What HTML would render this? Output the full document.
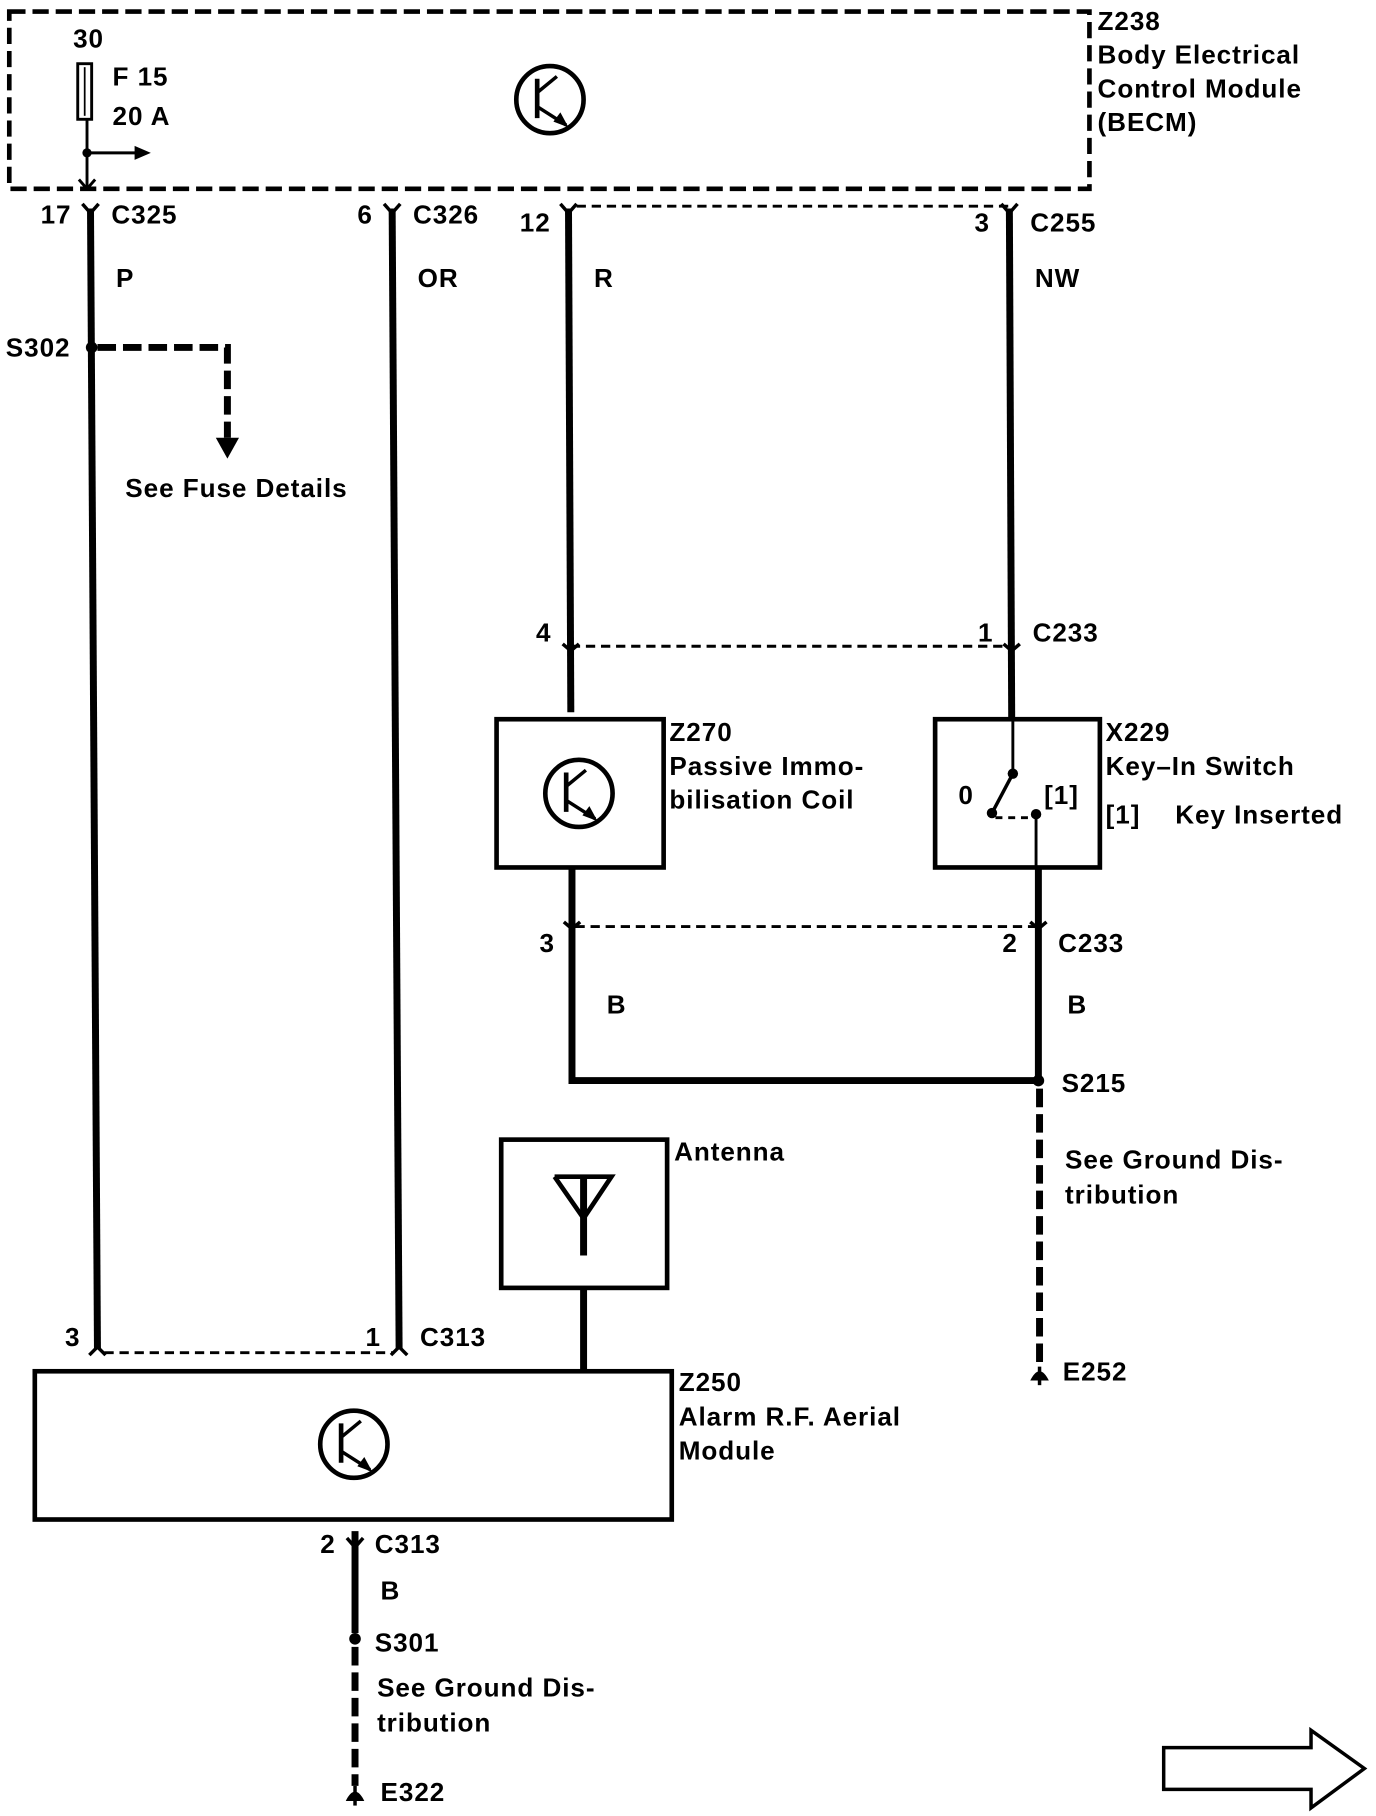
<!DOCTYPE html>
<html><head><meta charset="utf-8"><style>
html,body{margin:0;padding:0;background:#fff;}
svg{display:block;}
text{font-family:"Liberation Sans",Arial,sans-serif;font-weight:bold;font-size:22.5px;letter-spacing:0.8px;fill:#000;}
</style></head><body>
<svg width="1376" height="1816" viewBox="0 0 1186 1568" preserveAspectRatio="none" xmlns="http://www.w3.org/2000/svg">
<defs>
<g id="tr">
<circle cx="0" cy="0" r="29" fill="none" stroke="#000" stroke-width="4"/>
<line x1="-11" y1="-18" x2="-11" y2="16" stroke="#000" stroke-width="4"/>
<line x1="-11" y1="-6" x2="6" y2="-20" stroke="#000" stroke-width="3"/>
<line x1="-11" y1="6" x2="14" y2="22" stroke="#000" stroke-width="3"/>
<polygon points="16,24 3,19 9,11" fill="#000"/>
</g>
</defs>
<rect x="8" y="10" width="931" height="153" fill="none" stroke="#000" stroke-width="4" stroke-dasharray="14,6"/>
<text x="63" y="41">30</text>
<rect x="67" y="55" width="12" height="48" fill="none" stroke="#000" stroke-width="2.5"/>
<line x1="73" y1="58" x2="73" y2="100" stroke="#000" stroke-width="1.5"/>
<line x1="75" y1="103" x2="75" y2="163" stroke="#000" stroke-width="2.5"/>
<circle cx="75" cy="132" r="4"/>
<line x1="75" y1="132" x2="118" y2="132" stroke="#000" stroke-width="2.5"/>
<polygon points="130,132 116,126 116,138"/>
<polyline points="68,155 75,163 82,155" fill="none" stroke="#000" stroke-width="2.5"/>
<text x="97" y="74">F 15</text>
<text x="97" y="108">20 A</text>
<use href="#tr" x="474" y="86"/>
<text x="946" y="26">Z238</text>
<text x="946" y="55">Body Electrical</text>
<text x="946" y="84">Control Module</text>
<text x="946" y="113">(BECM)</text>

<g stroke="#000" fill="none">
<line x1="78" y1="180" x2="84" y2="1165" stroke-width="6"/>
<line x1="338" y1="180" x2="344" y2="1165" stroke-width="6"/>
<line x1="490" y1="180" x2="492" y2="615" stroke-width="6"/>
<line x1="870" y1="180" x2="872" y2="620" stroke-width="6"/>
<line x1="497" y1="178" x2="870" y2="178" stroke-width="2.5" stroke-dasharray="8,5"/>
</g>
<g stroke="#000" stroke-width="3" fill="none">
<polyline points="71,176 78,184 85,176"/><polyline points="331,176 338,184 345,176"/><polyline points="483,176 490,184 497,176"/><polyline points="863,176 870,184 877,176"/>
</g>
<text x="35" y="193">17</text><text x="96" y="193">C325</text>
<text x="308" y="193">6</text><text x="356" y="193">C326</text>
<text x="448" y="200">12</text>
<text x="840" y="200">3</text><text x="888" y="200">C255</text>
<text x="100" y="248">P</text><text x="360" y="248">OR</text><text x="512" y="248">R</text><text x="892" y="248">NW</text>

<circle cx="79" cy="300" r="5"/>
<text x="5" y="308">S302</text>
<polyline points="84,300 196,300 196,378" fill="none" stroke="#000" stroke-width="6" stroke-dasharray="16,6"/>
<polygon points="186,378 206,378 196,396"/>
<text x="108" y="429">See Fuse Details</text>

<line x1="492" y1="558" x2="872" y2="558" stroke="#000" stroke-width="2.5" stroke-dasharray="8,5"/>
<g stroke="#000" stroke-width="3" fill="none"><polyline points="485,556 492,562 499,556"/><polyline points="865,556 872,562 879,556"/></g>
<text x="462" y="554">4</text><text x="843" y="554">1</text><text x="890" y="554">C233</text>

<rect x="428" y="621" width="144" height="128" fill="none" stroke="#000" stroke-width="4"/>
<use href="#tr" x="499" y="685"/>
<text x="577" y="640">Z270</text><text x="577" y="669">Passive Immo-</text><text x="577" y="698">bilisation Coil</text>

<rect x="806" y="621" width="142" height="128" fill="none" stroke="#000" stroke-width="4"/>
<line x1="873" y1="621" x2="873" y2="668" stroke="#000" stroke-width="2.5"/>
<circle cx="873" cy="668" r="4.5"/>
<line x1="873" y1="668" x2="855" y2="702" stroke="#000" stroke-width="3"/>
<circle cx="855" cy="702" r="4.5"/>
<line x1="858" y1="706" x2="890" y2="706" stroke="#000" stroke-width="2.5" stroke-dasharray="6,5"/>
<circle cx="893" cy="703" r="4.5"/>
<line x1="893" y1="703" x2="893" y2="750" stroke="#000" stroke-width="2.5"/>
<text x="826" y="694">0</text><text x="900" y="694">[1]</text>
<text x="953" y="640">X229</text><text x="953" y="669">Key–In Switch</text><text x="953" y="711">[1]</text><text x="1013" y="711">Key Inserted</text>

<polyline points="493,750 493,933 895,933" fill="none" stroke="#000" stroke-width="6"/>
<line x1="895" y1="750" x2="895" y2="933" stroke="#000" stroke-width="6"/>
<line x1="496" y1="800" x2="895" y2="800" stroke="#000" stroke-width="2.5" stroke-dasharray="8,5"/>
<g stroke="#000" stroke-width="3" fill="none"><polyline points="486,796 493,802 500,796"/><polyline points="888,796 895,802 902,796"/></g>
<text x="465" y="822">3</text><text x="864" y="822">2</text><text x="912" y="822">C233</text>
<text x="523" y="875">B</text><text x="920" y="875">B</text>
<circle cx="895" cy="933" r="5"/>
<text x="915" y="943">S215</text>
<line x1="896" y1="940" x2="896" y2="1180" stroke="#000" stroke-width="6" stroke-dasharray="16,6"/>
<path d="M888,1192 Q896,1176 904,1192 Z" fill="#000"/>
<line x1="896" y1="1180" x2="896" y2="1196" stroke="#000" stroke-width="3"/>
<text x="918" y="1009">See Ground Dis-</text><text x="918" y="1039">tribution</text>
<text x="916" y="1192">E252</text>

<rect x="432" y="984" width="143" height="128" fill="none" stroke="#000" stroke-width="4"/>
<polyline points="478,1016 503,1052 527,1016 478,1016" fill="none" stroke="#000" stroke-width="4"/>
<line x1="503" y1="1016" x2="503" y2="1084" stroke="#000" stroke-width="6"/>
<line x1="503" y1="1112" x2="503" y2="1183" stroke="#000" stroke-width="6"/>
<text x="581" y="1002">Antenna</text>

<line x1="90" y1="1168" x2="340" y2="1168" stroke="#000" stroke-width="2.5" stroke-dasharray="8,5"/>
<g stroke="#000" stroke-width="3" fill="none"><polyline points="77,1170 84,1163 91,1170"/><polyline points="337,1170 344,1163 351,1170"/></g>
<text x="56" y="1162">3</text><text x="315" y="1162">1</text><text x="362" y="1162">C313</text>

<rect x="30" y="1184" width="549" height="128" fill="none" stroke="#000" stroke-width="4"/>
<use href="#tr" x="305" y="1247"/>
<text x="585" y="1201">Z250</text><text x="585" y="1231">Alarm R.F. Aerial</text><text x="585" y="1260">Module</text>

<line x1="306" y1="1322" x2="306" y2="1410" stroke="#000" stroke-width="6"/>
<polyline points="299,1328 306,1336 313,1328" fill="none" stroke="#000" stroke-width="3"/>
<text x="276" y="1341">2</text><text x="323" y="1341">C313</text>
<text x="328" y="1381">B</text>
<circle cx="306" cy="1415" r="5"/>
<text x="323" y="1426">S301</text>
<line x1="306" y1="1422" x2="306" y2="1542" stroke="#000" stroke-width="6" stroke-dasharray="16,6"/>
<path d="M298,1555 Q306,1539 314,1555 Z" fill="#000"/>
<line x1="306" y1="1542" x2="306" y2="1559" stroke="#000" stroke-width="3"/>
<text x="325" y="1465">See Ground Dis-</text><text x="325" y="1495">tribution</text>
<text x="328" y="1555">E322</text>

<polygon points="1003,1509 1130,1509 1130,1494 1176,1527 1130,1561 1130,1545 1003,1545" fill="none" stroke="#000" stroke-width="3"/>
</svg>
</body></html>
